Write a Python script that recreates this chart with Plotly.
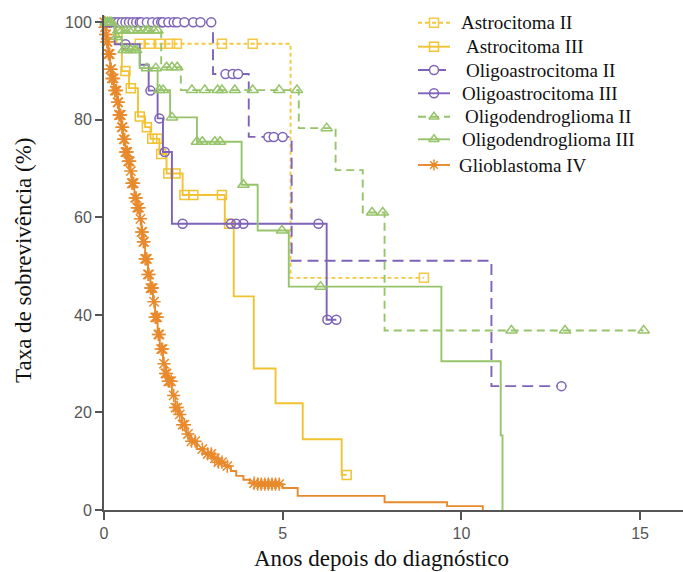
import numpy as np
import plotly.graph_objects as go

# ---------------- data ----------------
series_names = ["Astrocitoma II", "Astrocitoma III", "Oligoastrocitoma II",
                "Oligoastrocitoma III", "Oligodendroglioma II",
                "Oligodendroglioma III", "Glioblastoma IV"]

# Astrocitoma II (dashed yellow)
astro2_t = [0.5, 5.22]
astro2_s = [95.6, 47.6]
astro2_end = 8.95
astro2_cens = [1.0, 1.28, 1.57, 1.85, 2.04, 3.3, 4.16, 8.95]

# Astrocitoma III (solid yellow)
astro3_t = [0.35, 0.5, 0.7, 0.95, 1.15, 1.3, 1.55, 1.75, 2.2, 3.38, 3.63, 4.19, 4.8, 5.56, 6.65]
astro3_s = [95.6, 90.0, 86.5, 80.7, 78.5, 76.1, 73.0, 69.0, 64.6, 58.7, 43.8, 29.0, 21.9, 14.5, 7.2]
astro3_end = 6.79
astro3_cens = [0.6, 0.75, 1.0, 1.2, 1.35, 1.5, 1.6, 1.8, 2.0, 2.25, 2.5, 3.3, 3.5, 6.79]

# Oligoastrocitoma II (dashed purple)
oa2_t = [3.05, 4.05, 5.25, 10.84]
oa2_s = [89.4, 76.5, 51.1, 25.4]
oa2_end = 12.8
oa2_cens = [0.1, 0.2, 0.3, 0.4, 0.5, 0.6, 0.7, 0.8, 0.9, 1.0, 1.05, 1.2, 1.35, 1.5, 1.6,
            1.65, 1.8, 1.95, 2.05, 2.25, 2.5, 2.7, 3.0, 3.4, 3.6, 3.75, 4.6, 4.75, 5.0, 12.8]

# Oligoastrocitoma III (solid purple)
oa3_t = [0.3, 1.0, 1.25, 1.5, 1.65, 1.9, 6.23]
oa3_s = [95.5, 91.3, 86.0, 80.3, 73.4, 58.7, 39.0]
oa3_end = 6.5
oa3_cens = [0.6, 1.3, 1.55, 1.7, 2.2, 3.55, 3.7, 3.9, 6.0, 6.25, 6.5]

# Oligodendroglioma II (dashed green)
od2_t = [0.3, 1.6, 2.15, 5.45, 6.48, 7.24, 7.85]
od2_s = [98.3, 90.8, 86.1, 78.3, 69.7, 61.0, 36.8]
od2_end = 15.1
od2_cens = [0.05, 0.1, 0.2, 0.4, 0.5, 0.6, 0.7, 0.8, 0.95, 1.1, 1.2, 1.25, 1.4, 1.5,
            1.75, 1.9, 2.05, 2.46, 2.82, 3.18, 3.3, 3.66, 4.16, 4.9, 5.4, 6.23, 7.5, 7.8,
            11.4, 12.9, 15.1]

# Oligodendroglioma III (solid green)
od3_t = [0.3, 0.5, 1.0, 1.5, 1.85, 2.6, 3.85, 4.3, 5.17, 9.44, 11.1, 11.15]
od3_s = [97.0, 94.3, 90.6, 86.1, 80.5, 75.5, 66.7, 57.3, 45.8, 30.5, 15.3, 0.0]
od3_end = 11.15
od3_cens = [0.15, 0.35, 0.55, 0.65, 0.75, 0.85, 0.9, 1.2, 1.45, 1.55, 1.65, 1.9, 2.6,
            2.75, 3.1, 3.25, 3.9, 4.98, 6.06]

# Glioblastoma IV (orange)
gbm_t = [0.02, 0.05, 0.08, 0.12, 0.17, 0.22, 0.28, 0.36, 0.42, 0.48, 0.53, 0.6, 0.66,
         0.73, 0.78, 0.85, 0.92, 1.0, 1.05, 1.09, 1.15, 1.23, 1.3, 1.37, 1.43, 1.5,
         1.56, 1.65, 1.72, 1.79, 1.9, 2.0, 2.07, 2.18, 2.3, 2.4, 2.6, 2.8, 3.04, 3.2,
         3.38, 3.55, 3.7, 3.9, 4.08, 4.3, 5.0, 5.42, 7.85, 9.6, 10.6]
gbm_s = [99.0, 97.5, 96.0, 93.5, 90.4, 88.5, 86.0, 83.6, 81.0, 78.5, 76.0, 73.4, 71.5,
         69.5, 67.0, 64.0, 62.0, 59.7, 57.0, 55.0, 51.5, 48.3, 45.5, 42.7, 39.5, 36.0,
         33.0, 30.0, 28.0, 26.4, 23.5, 21.0, 19.6, 17.5, 15.6, 14.1, 12.5, 11.5, 10.6, 9.8,
         9.0, 8.0, 7.0, 6.2, 5.5, 5.3, 4.5, 2.9, 1.6, 0.8, 0.0]
gbm_end = 10.6
gbm_cens = [0.01, 0.03, 0.05, 0.06, 0.08, 0.1, 0.12, 0.14, 0.16, 0.18, 0.2, 0.22, 0.24,
            0.27, 0.3, 0.33, 0.35, 0.38, 0.4, 0.42, 0.44, 0.47, 0.5, 0.52, 0.55, 0.58,
            0.6, 0.62, 0.65, 0.68, 0.7, 0.72, 0.75, 0.78, 0.8, 0.83, 0.87, 0.9, 0.93,
            0.95, 0.98, 1.02, 1.05, 1.07, 1.1, 1.12, 1.15, 1.18, 1.2, 1.23, 1.26, 1.3,
            1.33, 1.36, 1.4, 1.43, 1.46, 1.49, 1.52, 1.55, 1.6, 1.64, 1.68, 1.72, 1.75,
            1.8, 1.83, 1.88, 1.95, 2.0, 2.05, 2.12, 2.2, 2.25, 2.35, 2.45, 2.55, 2.75,
            2.9, 3.0, 3.1, 3.2, 3.3, 3.45, 4.2, 4.3, 4.4, 4.5, 4.6, 4.7, 4.8, 4.9]

# ---------------- styles ----------------
YEL = "#F1C232"
YEL2 = "#F4C842"
PUR = "#7E63B8"
GRN = "#96C46A"
ORG = "#E88A2C"

def surv_at(times, survs, t):
    tt = np.array(times)
    ss = np.array([100.0] + list(survs))
    idx = np.searchsorted(tt, t, side="right")
    return ss[idx]

def step_xy(times, survs, end):
    x = [0.0] + list(times) + [end]
    y = [100.0] + list(survs) + [survs[-1]]
    return x, y

# name, times, survs, end, censors, color, dash, symbol, fill, marker size
specs = [
    ("Glioblastoma IV", gbm_t, gbm_s, gbm_end, gbm_cens, ORG, "solid", "asterisk-open", None, 11),
    ("Astrocitoma III", astro3_t, astro3_s, astro3_end, astro3_cens, YEL, "solid", "square-open", None, 9),
    ("Astrocitoma II", astro2_t, astro2_s, astro2_end, astro2_cens, YEL2, "4px,3px", "square-open", None, 9),
    ("Oligoastrocitoma III", oa3_t, oa3_s, oa3_end, oa3_cens, PUR, "solid", "circle-open", None, 9),
    ("Oligoastrocitoma II", oa2_t, oa2_s, oa2_end, oa2_cens, PUR, "11px,6px", "circle", "white", 9),
    ("Oligodendroglioma III", od3_t, od3_s, od3_end, od3_cens, GRN, "solid", "triangle-up-open", None, 10),
    ("Oligodendroglioma II", od2_t, od2_s, od2_end, od2_cens, GRN, "8px,5px", "triangle-up-open", None, 10),
]
style = {sp[0]: sp for sp in specs}

fig = go.Figure()
for name, t, s, end, cens, col, dash, sym, fill, msz in specs:
    x, y = step_xy(t, s, end)
    fig.add_trace(go.Scatter(x=x, y=y, mode="lines",
                             line=dict(color=col, width=1.9, dash=dash, shape="hv"),
                             showlegend=False, hoverinfo="skip", cliponaxis=False))
    cy = [surv_at(t, s, c) for c in cens]
    mk = dict(symbol=sym, size=msz, color=(fill if fill else col),
              line=dict(color=col, width=1.5))
    fig.add_trace(go.Scatter(x=cens, y=cy, mode="markers", marker=mk, showlegend=False,
                             hoverinfo="skip", cliponaxis=False))

# ---- legend drawn on an overlay axis measured in page pixels ----
PLOT_L, PLOT_R, PLOT_T, PLOT_B = 104, 683, 15, 510
leg_rows_y = [22.7, 46.7, 70.0, 93.3, 116.7, 139.3, 165.0]
leg_text_x = [459, 464, 464, 460, 463, 460, 457]
leg_line_x = (418, 450)
for i, name in enumerate(series_names):
    _, _, _, _, _, col, dash, sym, fill, msz = style[name]
    yy = leg_rows_y[i]
    fig.add_trace(go.Scatter(x=[leg_line_x[0], (leg_line_x[0] + leg_line_x[1]) / 2, leg_line_x[1]],
                             y=[yy, yy, yy], xaxis="x2", yaxis="y2", mode="lines",
                             line=dict(color=col, width=1.9, dash=dash),
                             showlegend=False, hoverinfo="skip", cliponaxis=False))
    fig.add_trace(go.Scatter(x=[(leg_line_x[0] + leg_line_x[1]) / 2], y=[yy], xaxis="x2", yaxis="y2",
                             mode="markers",
                             marker=dict(symbol=sym, size=min(msz, 9), color=(fill if fill else col),
                                         line=dict(color=col, width=1.5)),
                             showlegend=False, hoverinfo="skip", cliponaxis=False))
    fig.add_annotation(text=name, xref="x2", yref="y2", x=leg_text_x[i], y=yy,
                       xanchor="left", yanchor="middle", showarrow=False,
                       font=dict(family="Liberation Serif, Times New Roman, serif", size=19, color="#111"))

AX = "#555555"
TFONT = dict(family="Liberation Serif, Times New Roman, serif", size=23, color="#111")
fig.update_layout(
    width=683, height=572,
    margin=dict(l=PLOT_L, r=683 - PLOT_R, t=PLOT_T, b=572 - PLOT_B),
    paper_bgcolor="white", plot_bgcolor="white",
    showlegend=False,
    xaxis=dict(range=[0, 16.2], tickvals=[0, 5, 10, 15], ticks="outside", ticklen=8, tickwidth=2,
               tickcolor=AX, showline=True, linecolor=AX, linewidth=2, showgrid=False,
               zeroline=False, tickfont=dict(family="Liberation Sans, Arial", size=16, color=AX)),
    yaxis=dict(range=[0, 101.5], tickvals=[0, 20, 40, 60, 80, 100], ticks="outside", ticklen=7,
               tickwidth=2, tickcolor=AX, showline=True, linecolor=AX, linewidth=2, showgrid=False,
               zeroline=False, tickfont=dict(family="Liberation Sans, Arial", size=16, color=AX)),
    xaxis2=dict(overlaying="x", range=[PLOT_L, PLOT_R], visible=False, anchor="y2"),
    yaxis2=dict(overlaying="y", range=[PLOT_B, PLOT_T], visible=False, anchor="x2"),
    annotations=list(fig.layout.annotations) + [
        dict(text="Anos depois do diagnóstico", xref="paper", yref="paper",
             x=(381 - PLOT_L) / (PLOT_R - PLOT_L), y=-(558 - PLOT_B) / (PLOT_B - PLOT_T),
             xanchor="center", yanchor="middle", showarrow=False, font=TFONT),
        dict(text="Taxa de sobrevivência (%)", xref="paper", yref="paper",
             x=-(PLOT_L - 23) / (PLOT_R - PLOT_L), y=(PLOT_B - 260) / (PLOT_B - PLOT_T),
             xanchor="center", yanchor="middle", textangle=-90, showarrow=False, font=TFONT),
    ],
)

fig.write_html("out.html")
